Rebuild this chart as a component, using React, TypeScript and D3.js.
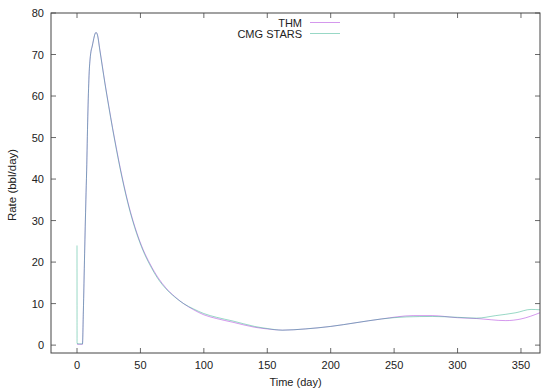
import React from 'react';
import * as d3 from 'd3';

// THM simulation (time in days, rate in bbl/day)
const thmTime = [0, 2, 4.3, 5, 6, 7, 7.6, 8.5, 9.5, 10.5, 11, 12, 13, 14, 15, 16, 18, 20, 22, 25, 28, 31, 34, 37, 40, 44, 47, 52, 57.5, 64, 70, 77, 84, 92, 100, 110, 123, 140, 150, 162, 180, 200, 220, 240, 265, 280, 300, 315, 338, 350, 365];
const thmRate = [0.2, 0.2, 0.2, 8, 22, 35, 42, 55, 65, 69.5, 70.7, 72, 73.5, 74.8, 75.3, 74.9, 71.2, 67.2, 63.2, 57.7, 52.4, 47.5, 42.8, 38.5, 34.6, 30.1, 27.2, 23.1, 19.6, 16.2, 13.8, 11.7, 10.0, 8.5, 7.3, 6.4, 5.5, 4.3, 3.9, 3.6, 3.9, 4.5, 5.4, 6.3, 7.1, 7.1, 6.6, 6.4, 5.9, 6.3, 7.8];

// CMG STARS simulation
const cmgTime = [0, 0.05, 2, 4.3, 5, 6, 7, 7.6, 8.5, 9.5, 10.5, 11, 12, 13, 14, 15, 16, 18, 20, 22, 25, 28, 31, 34, 37, 40, 44, 47, 52, 57.5, 64, 70, 77, 84, 92, 100, 110, 123, 140, 150, 162, 180, 200, 220, 240, 260, 280, 300, 315, 330, 346, 358, 365];
const cmgRate = [24, 0.4, 0.3, 0.3, 8, 22, 35, 42, 55, 65, 69.5, 70.7, 72, 73.5, 74.8, 75.3, 74.8, 71, 67, 63, 57.5, 52.2, 47.2, 42.5, 38.2, 34.3, 29.8, 26.9, 22.8, 19.3, 15.9, 13.6, 11.6, 10.0, 8.7, 7.6, 6.7, 5.8, 4.5, 4.0, 3.6, 3.9, 4.5, 5.4, 6.3, 6.8, 6.9, 6.7, 6.5, 7.1, 7.8, 8.6, 8.5];

const xTicks = [0, 50, 100, 150, 200, 250, 300, 350];
const yTicks = [0, 10, 20, 30, 40, 50, 60, 70, 80];
const legendNames = ['THM', 'CMG STARS'];

const W = 550;
const H = 392;
const M = { left: 51, right: 10, top: 13, bottom: 39 };

const App = () => {
  const x = d3.scaleLinear().domain([-20.5, 365]).range([M.left, W - M.right]);
  const y = d3.scaleLinear().domain([-1.9, 80]).range([H - M.bottom, M.top]);

  const line = d3
    .line<[number, number]>()
    .x((d) => x(d[0]))
    .y((d) => y(d[1]))
    .curve(d3.curveMonotoneX);

  const thmPath = line(thmTime.map((t, i) => [t, thmRate[i]]));
  const cmgPath = line(cmgTime.map((t, i) => [t, cmgRate[i]]));

  const colors = ['#9400d3', '#009e73'];
  const left = M.left;
  const right = W - M.right;
  const top = M.top;
  const bottom = H - M.bottom;
  const tick = 5;
  const font = 'Liberation Sans, Arial, sans-serif';

  return (
    <svg
      width={W}
      height={H}
      style={{ position: 'absolute', left: 0, top: 0, background: '#fff' }}
      fontFamily={font}
    >
      <defs>
        <clipPath id="plot">
          <rect x={left} y={top} width={right - left} height={bottom - top} />
        </clipPath>
      </defs>

      {/* ticks, mirrored on all sides */}
      {xTicks.map((t) => (
        <g key={'x' + t}>
          <line x1={x(t)} x2={x(t)} y1={bottom} y2={bottom - tick} stroke="#444" strokeWidth={0.8} />
          <line x1={x(t)} x2={x(t)} y1={top} y2={top + tick} stroke="#444" strokeWidth={0.8} />
          <text x={x(t)} y={bottom + 16} textAnchor="middle" fontSize={11} fill="#222">
            {t}
          </text>
        </g>
      ))}
      {yTicks.map((t) => (
        <g key={'y' + t}>
          <line x1={left} x2={left + tick} y1={y(t)} y2={y(t)} stroke="#444" strokeWidth={0.8} />
          <line x1={right} x2={right - tick} y1={y(t)} y2={y(t)} stroke="#444" strokeWidth={0.8} />
          <text x={left - 7} y={y(t) + 4} textAnchor="end" fontSize={11} fill="#222">
            {t}
          </text>
        </g>
      ))}

      {/* series */}
      <g clipPath="url(#plot)" fill="none">
        <path d={thmPath} stroke={colors[0]} strokeWidth={0.9} strokeOpacity={0.45} />
        <path d={cmgPath} stroke={colors[1]} strokeWidth={0.9} strokeOpacity={0.45} />
      </g>

      {/* border */}
      <rect x={left} y={top} width={right - left} height={bottom - top} fill="none" stroke="#444" strokeWidth={1} />

      {/* legend */}
      {legendNames.map((name, i) => (
        <g key={name}>
          <text x={302} y={26.5 + i * 11} textAnchor="end" fontSize={11} fill="#222">
            {name}
          </text>
          <line x1={310} x2={340} y1={22.5 + i * 11} y2={22.5 + i * 11} stroke={colors[i]} strokeWidth={0.9} strokeOpacity={0.45} />
        </g>
      ))}

      {/* axis titles */}
      <text x={(left + right) / 2} y={H - 6} textAnchor="middle" fontSize={11} fill="#222">
        Time (day)
      </text>
      <text transform={`translate(16, ${(top + bottom) / 2 + 2}) rotate(-90)`} textAnchor="middle" fontSize={11.5} fill="#222">
        Rate (bbl/day)
      </text>
    </svg>
  );
};

export default App;
